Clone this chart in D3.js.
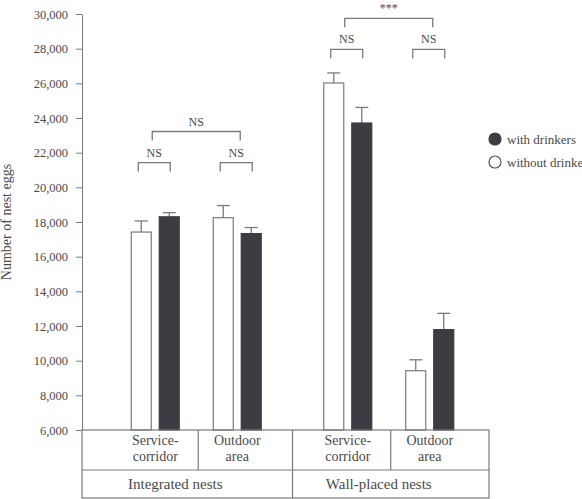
<!DOCTYPE html>
<html>
<head>
<meta charset="utf-8">
<script src="https://cdn.jsdelivr.net/npm/d3@7"></script>
<style>
  body { margin: 0; background: #fff; }
  svg text { font-family: "Liberation Serif", "DejaVu Serif", serif; fill: #4a4a4a; }
</style>
</head>
<body>
<svg id="chart" width="582" height="499" font-family="Liberation Serif, serif"></svg>
<script>
// ─── data ───────────────────────────────────────────────────────────────
const groups    = ['Integrated nests', 'Wall-placed nests'];
const locations = ['Service-corridor', 'Outdoor area'];
const locLines  = { 'Service-corridor': ['Service-', 'corridor'], 'Outdoor area': ['Outdoor', 'area'] };
const series    = ['without drinkers', 'with drinkers'];

// order: Integrated/Service, Integrated/Outdoor, Wall/Service, Wall/Outdoor
const withoutMean = [17420, 18250, 26020, 9420];
const withoutErr  = [640, 700, 580, 630];
const withMean    = [18300, 17330, 23710, 11790];
const withErr     = [240, 350, 900, 940];

const yTicks = d3.range(6000, 30001, 2000);

// significance brackets (level in nest eggs)
const pairTests = [
  { group: 'Integrated nests',  loc: 'Service-corridor', label: 'NS', level: 21430 },
  { group: 'Integrated nests',  loc: 'Outdoor area',     label: 'NS', level: 21430 },
  { group: 'Wall-placed nests', loc: 'Service-corridor', label: 'NS', level: 27960 },
  { group: 'Wall-placed nests', loc: 'Outdoor area',     label: 'NS', level: 27960 }
];
const groupTests = [
  { group: 'Integrated nests',  label: 'NS',  level: 23220 },
  { group: 'Wall-placed nests', label: '***', level: 29750 }
];

// ─── layout ─────────────────────────────────────────────────────────────
const axisX = 82, tableRight = 489;
const plotTop = 14, plotBottom = 430, tableMid = 470, tableBottom = 498;
const lineCol = '#7a7a7a', darkFill = '#3c3d42';

const svg = d3.select('#chart');

const y  = d3.scaleLinear().domain([6000, 30000]).range([plotBottom, plotTop]);
const x0 = d3.scaleBand().domain(groups).range([100, 485]).padding(0);
const x1 = d3.scaleBand().domain(locations).range([0, x0.bandwidth()]).paddingInner(0).paddingOuter(0.174);
const x2 = d3.scaleBand().domain(series).range([0, x1.bandwidth()]).paddingInner(0.286).paddingOuter(0.607);

const rows = [];
groups.forEach((g, gi) => locations.forEach((l, li) => {
  const i = gi * 2 + li;
  rows.push({ group: g, loc: l, s: series[0], mean: withoutMean[i], err: withoutErr[i] });
  rows.push({ group: g, loc: l, s: series[1], mean: withMean[i],    err: withErr[i] });
}));

const barX    = d => x0(d.group) + x1(d.loc) + x2(d.s);
const barMid  = (g, l, s) => x0(g) + x1(l) + x2(s) + x2.bandwidth() / 2;
const pairMid = (g, l) => x0(g) + x1(l) + x1.bandwidth() / 2;

// ─── y axis ─────────────────────────────────────────────────────────────
const yAxis = svg.append('g').attr('transform', `translate(${axisX},0)`)
  .call(d3.axisLeft(y).tickValues(yTicks).tickSize(6).tickSizeOuter(0).tickPadding(8)
    .tickFormat(d3.format(',')));
yAxis.attr('font-family', null);
yAxis.select('.domain').attr('stroke', lineCol);
yAxis.selectAll('.tick line').attr('stroke', lineCol);
yAxis.selectAll('.tick text').attr('font-size', 12.5).attr('fill', '#4a4a4a');

svg.append('text')
  .attr('transform', `translate(8,${(plotTop + plotBottom) / 2}) rotate(-90)`)
  .attr('text-anchor', 'middle').attr('dominant-baseline', 'middle')
  .attr('font-size', 14).text('Number of nest eggs');

// ─── bars + error bars ──────────────────────────────────────────────────
const bars = svg.append('g');
bars.selectAll('.err').data(rows).enter().append('g').attr('class', 'err')
  .each(function(d) {
    const cx = barX(d) + x2.bandwidth() / 2;
    const g = d3.select(this);
    g.append('line').attr('x1', cx).attr('x2', cx).attr('y1', y(d.mean)).attr('y2', y(d.mean + d.err))
      .attr('stroke', lineCol).attr('stroke-width', 1.3);
    g.append('line').attr('x1', cx - 6.5).attr('x2', cx + 6.5).attr('y1', y(d.mean + d.err)).attr('y2', y(d.mean + d.err))
      .attr('stroke', lineCol).attr('stroke-width', 1.3);
  });
bars.selectAll('rect').data(rows).enter().append('rect')
  .attr('x', barX).attr('width', x2.bandwidth())
  .attr('y', d => y(d.mean)).attr('height', d => y(6000) - y(d.mean))
  .attr('fill', d => d.s === series[1] ? darkFill : '#fff')
  .attr('stroke', d => d.s === series[1] ? darkFill : lineCol)
  .attr('stroke-width', 1.2);

// ─── brackets ───────────────────────────────────────────────────────────
const br = svg.append('g').attr('fill', 'none').attr('stroke', lineCol).attr('stroke-width', 1.3);
const leg = 9;
function bracket(xa, xb, lv, label, size) {
  const yy = y(lv);
  br.append('path').attr('d', `M${xa},${yy + leg}V${yy}H${xb}V${yy + leg}`);
  svg.append('text').attr('x', (xa + xb) / 2).attr('y', yy - 6)
    .attr('text-anchor', 'middle').attr('font-size', size).text(label);
}
pairTests.forEach(t => bracket(barMid(t.group, t.loc, series[0]) - 3, barMid(t.group, t.loc, series[1]) + 1, t.level, t.label, 12));
groupTests.forEach(t => bracket(pairMid(t.group, locations[0]) - 3, pairMid(t.group, locations[1]) + 3, t.level, t.label, 12));

// ─── category table ─────────────────────────────────────────────────────
const tb = svg.append('g').attr('fill', 'none').attr('stroke', lineCol).attr('stroke-width', 1.2);
tb.append('rect').attr('x', axisX).attr('y', plotBottom).attr('width', tableRight - axisX).attr('height', tableBottom - plotBottom);
tb.append('line').attr('x1', axisX).attr('x2', tableRight).attr('y1', tableMid).attr('y2', tableMid);
tb.append('line').attr('x1', x0(groups[1])).attr('x2', x0(groups[1])).attr('y1', plotBottom).attr('y2', tableBottom);
groups.forEach(g => {
  const xd = x0(g) + x0.bandwidth() / 2 + 2;
  tb.append('line').attr('x1', xd).attr('x2', xd).attr('y1', plotBottom).attr('y2', tableMid);
});

groups.forEach((g, gi) => {
  locations.forEach(l => {
    const t = svg.append('text').attr('text-anchor', 'middle').attr('font-size', 14);
    locLines[l].forEach((ln, k) => t.append('tspan').attr('x', pairMid(g, l)).attr('y', 445 + k * 16).text(ln));
  });
  const left = gi === 0 ? axisX : x0(groups[1]);
  const right = gi === 0 ? x0(groups[1]) : tableRight;
  svg.append('text').attr('x', (left + right) / 2 - 12).attr('y', 489)
    .attr('text-anchor', 'middle').attr('font-size', 15).text(g);
});

// ─── legend ─────────────────────────────────────────────────────────────
const legendItems = [series[1], series[0]];
const lg = svg.append('g').attr('transform', 'translate(495,139)');
lg.selectAll('g').data(legendItems).enter().append('g')
  .attr('transform', (d, i) => `translate(0,${i * 23})`)
  .each(function(d) {
    const g = d3.select(this);
    g.append('circle').attr('r', 6)
      .attr('fill', d === series[1] ? darkFill : '#fff')
      .attr('stroke', d === series[1] ? darkFill : '#555').attr('stroke-width', 1.2);
    g.append('text').attr('x', 12).attr('y', 4.5).attr('font-size', 13).text(d);
  });
</script>
</body>
</html>
